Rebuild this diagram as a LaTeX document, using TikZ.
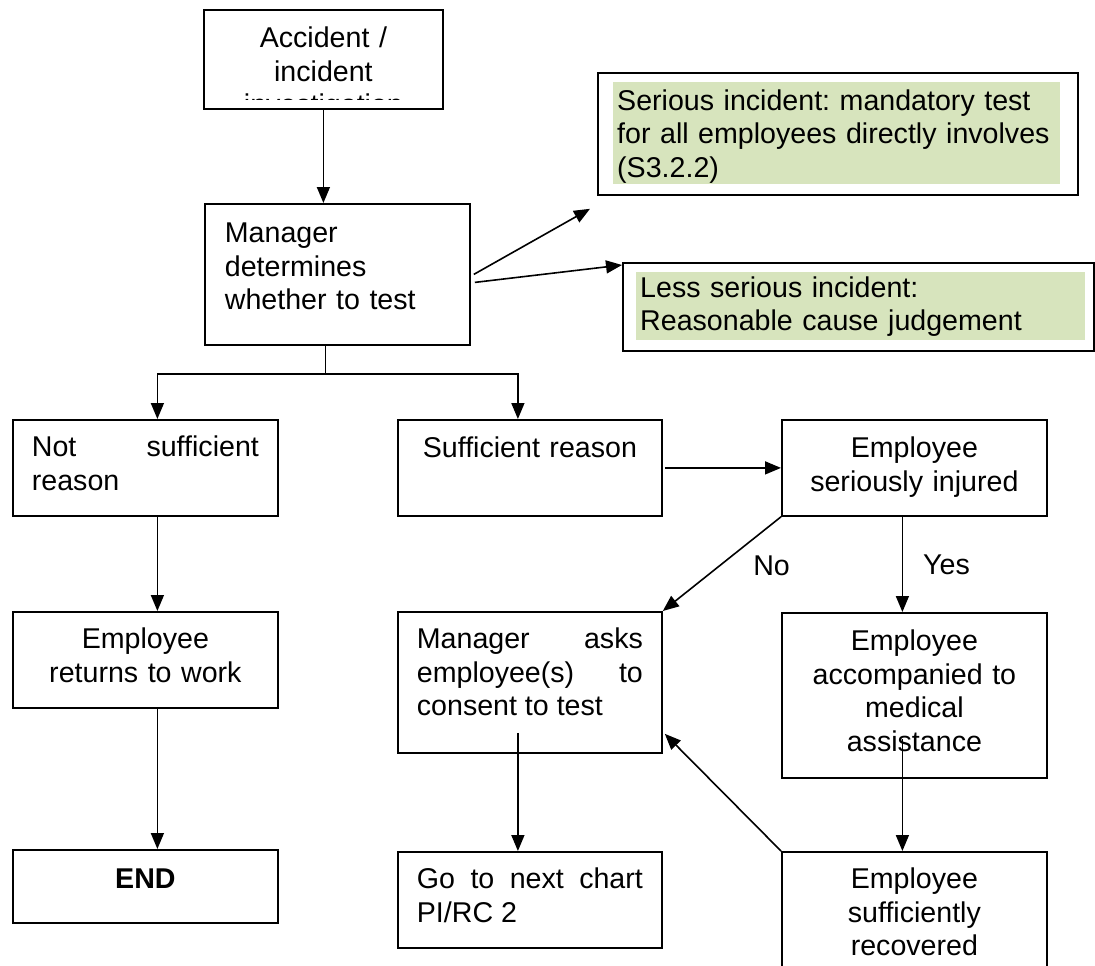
\documentclass[tikz,border=0pt]{standalone}
\usepackage{fontspec}
\setmainfont{Liberation Sans}
\usetikzlibrary{arrows.meta,calc,positioning}
\definecolor{shade}{HTML}{D7E4BD}
\newcommand\flowfont{\fontsize{28.6}{33.5}\selectfont\frenchspacing}
\tikzset{
  flow/.style={draw, line width=1.8pt, anchor=north west, inner ysep=0pt, font=\flowfont},
  mid/.style={flow, inner xsep=10pt, text width=245pt, align=center},
  just/.style={flow, inner xsep=19pt, text width=226pt, align=justify},
  note/.style={anchor=north west, fill=shade, inner ysep=0pt, inner xsep=4pt, font=\flowfont, align=left},
  frame/.style={draw, line width=1.8pt, anchor=north west, inner sep=0pt},
  arr/.style={-{Triangle[length=16pt,width=13pt]}, line width=1.6pt},
  lbl/.style={font=\flowfont, inner sep=0pt},
}

\begin{document}
\begin{tikzpicture}[x=1pt, y=-1pt]
  \clip (0,0) rectangle (1095,966);
  % top box, its third line is cut off
  \begin{scope}
    \clip (204,10) rectangle (441,99);
    \node[flow, draw=none, inner xsep=10pt, text width=217pt, align=center, text height=37pt, text depth=60pt] (acc) at (204,10) {Accident /\\incident\\investigation};
  \end{scope}
  \draw[line width=1.8pt] (acc.north west) rectangle (acc.south east);

  \node[flow, inner xsep=20pt, text width=225pt, align=left, text height=39pt, text depth=102pt] (mgr) at (204,203) {Manager\\determines\\whether to test};

  % shaded notes
  \node[frame, minimum width=480pt, minimum height=122pt] (serious) at (597,72) {};
  \node[note, text width=439pt, text height=28pt, text depth=74pt] (serious-txt) at ($(serious.north west)+(16,10)$) {Serious incident: mandatory test\\for all employees directly involves\\(S3.2.2)};
  \node[frame, minimum width=471pt, minimum height=88pt] (less) at (622,262) {};
  \node[note, text width=441pt, text height=25pt, text depth=43pt] (less-txt) at ($(less.north west)+(14,10)$) {Less serious incident:\\Reasonable cause judgement};

  % second row
  \node[just, text width=227pt, text height=37pt, text depth=59pt] (notsuf) at (12,419) {Not sufficient\linebreak reason};
  \node[flow, inner xsep=10pt, text width=244pt, align=center, text height=38pt, text depth=58pt] (suf) at (397,419) {Sufficient reason};
  \node[mid, text height=38pt, text depth=58pt] (injured) at (781,419) {Employee\\seriously injured};

  % third row
  \node[mid, text height=37pt, text depth=59pt] (returns) at (12,611) {Employee\\returns to work};
  \node[just, text height=37pt, text depth=104pt] (asks) at (397,611) {Manager asks\linebreak employee(s) to\linebreak consent to test};
  \node[mid, text height=38pt, text depth=127pt] (accomp) at (781,612) {Employee\\accompanied to\\medical\\assistance};

  % last row
  \node[mid, text height=39pt, text depth=34pt, font=\flowfont\bfseries] (stop) at (12,849) {END};
  \node[just, text height=37pt, text depth=59pt] (next) at (397,851) {Go to next chart\linebreak PI/RC 2};
  \node[mid, text height=37pt, text depth=93pt] (recov) at (781,851) {Employee\\sufficiently\\recovered};

  % connectors
  \draw[arr] (acc.south) -- (acc.south |- mgr.north);
  \draw[arr] ($(mgr.east)+(3,0)$) -- ($(serious.south west)+(-7,13)$);
  \draw[arr] ($(mgr.east)+(4,8)$) -- ($(less.north west)+(0,3)$);
  \coordinate (fork) at ($(mgr.south)+(-12,28)$);
  \draw[line width=1.6pt] ($(mgr.south)+(-12,0)$) -- (fork);
  \draw[arr] (fork) -| ($(notsuf.north)+(12,0)$);
  \draw[arr] (fork) -| ($(suf.north)+(-12,0)$);
  \draw[arr] ($(suf.east)+(2,0)$) -- (injured.west);
  \draw[arr] (injured.south west) -- (asks.north east) node[lbl, pos=.52, right=33pt] (no) {No};
  \draw[arr] ($(injured.south)+(-12,0)$) -- ($(accomp.north)+(-12,0)$) node[lbl, midway, right=20pt] (yes) {Yes};
  \draw[arr] ($(notsuf.south)+(12,0)$) -- ($(returns.north)+(12,0)$);
  \draw[arr] ($(returns.south)+(12,0)$) -- ($(stop.north)+(12,0)$);
  \draw[arr] ($(asks.south)+(-12,-21)$) -- ($(next.north)+(-12,0)$);
  \draw[arr] ($(accomp.south)+(-12,-40)$) -- ($(recov.north)+(-12,0)$);
  \draw[arr] (recov.north west) -- ($(asks.south east)+(2,-20)$);
\end{tikzpicture}
\end{document}
